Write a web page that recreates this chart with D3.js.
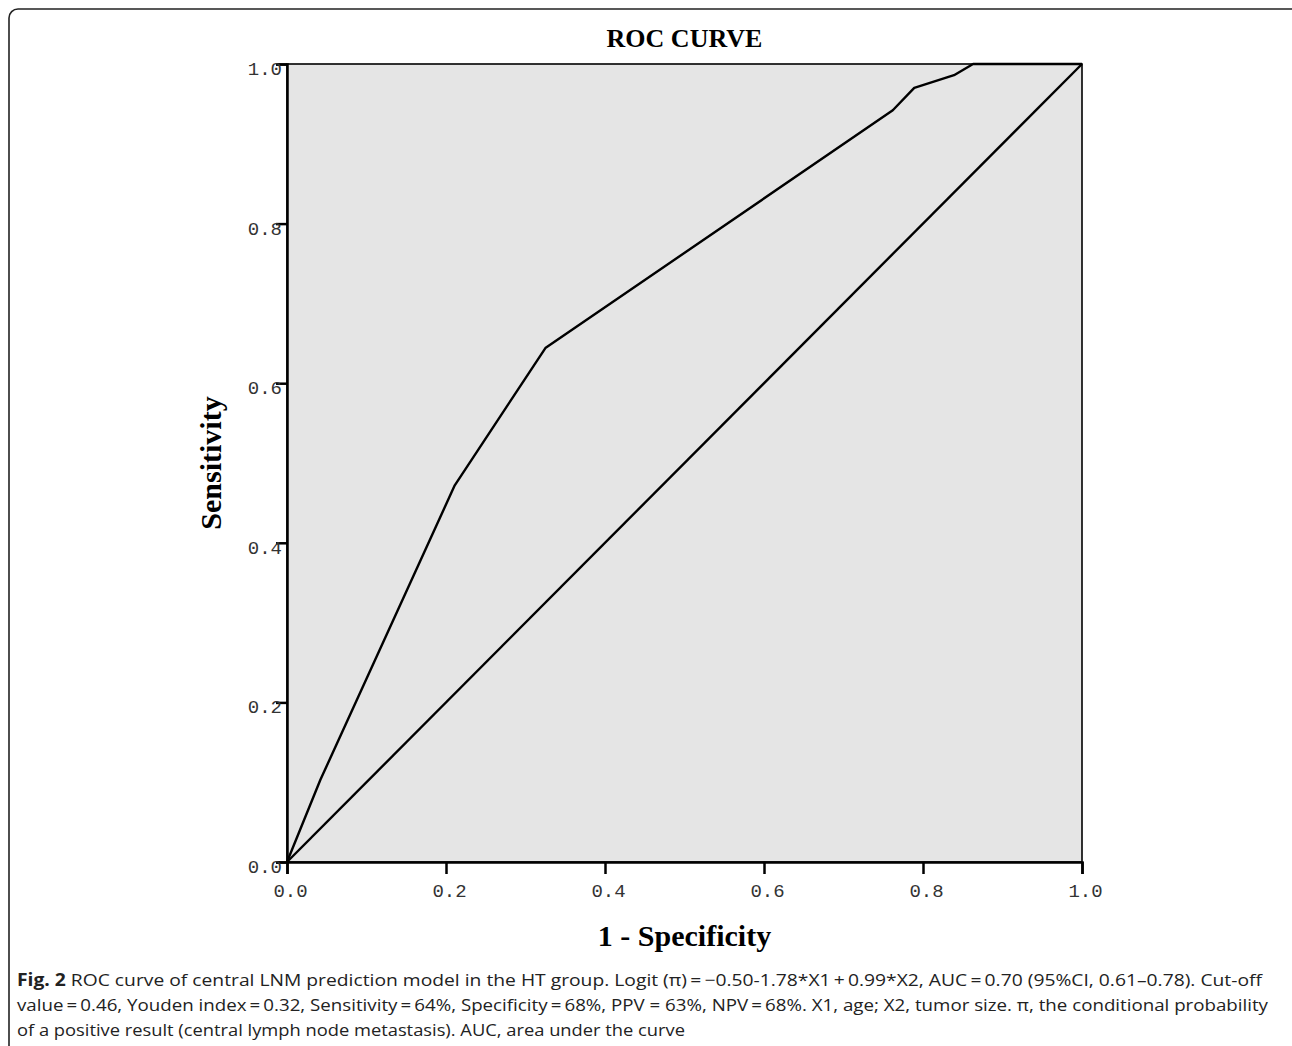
<!DOCTYPE html>
<html>
<head>
<meta charset="utf-8">
<script src="https://cdn.jsdelivr.net/npm/d3@7"></script>
<style>
body{margin:0;background:#fff;}
</style>
</head>
<body>
<div id="chart"></div>
<script>
// ROC curve points (1 - specificity, sensitivity)
let roc_fpr = [0, 0.042, 0.211, 0.325, 0.762, 0.789, 0.839, 0.863, 1.0],
roc_tpr = [0, 0.103, 0.472, 0.644, 0.942, 0.970, 0.986, 1.0, 1.0],
ref_line = [0, 1],
tick_values = [0, 0.2, 0.4, 0.6, 0.8, 1.0];

let caption_lines = [
	['Fig. 2', ' ROC curve of central LNM prediction model in the HT group. Logit (\u03c0)\u2009=\u2009\u22120.50-1.78*X1\u2009+\u20090.99*X2, AUC\u2009=\u20090.70 (95%CI, 0.61\u20130.78). Cut-off'],
	['', 'value\u2009=\u20090.46, Youden index\u2009=\u20090.32, Sensitivity\u2009=\u200964%, Specificity\u2009=\u200968%, PPV = 63%, NPV\u2009=\u200968%. X1, age; X2, tumor size. \u03c0, the conditional probability'],
	['', 'of a positive result (central lymph node metastasis). AUC, area under the curve']
],
caption_width = [1245, 1251, 668];

let W = 1292, H = 1046,
plot_left = 287, plot_right = 1082, plot_top = 64, plot_bottom = 862;

let svg = d3.select('#chart').append('svg').attr('width', W).attr('height', H);

// outer frame, rounded corner, runs off right and bottom
svg.append('rect')
.attr('x', 9).attr('y', 9)
.attr('width', W + 20).attr('height', H + 20)
.attr('rx', 9).attr('ry', 9)
.style('fill', 'none')
.style('stroke', '#222')
.style('stroke-width', 1.6);

let x = d3.scaleLinear().domain([0, 1]).range([plot_left, plot_right]),
y = d3.scaleLinear().domain([0, 1]).range([plot_bottom, plot_top]);

// plot background
svg.append('rect')
.attr('x', x(0)).attr('y', y(1))
.attr('width', x(1) - x(0)).attr('height', y(0) - y(1))
.style('fill', '#e5e5e5')
.style('stroke', '#000')
.style('stroke-width', 1.6);

// axes
let xAxis = svg.append('g').attr('transform', 'translate(0,' + plot_bottom + ')')
.call(d3.axisBottom(x).tickValues(tick_values).tickFormat(d3.format('.1f')).tickSize(12).tickPadding(10));
let yAxis = svg.append('g').attr('transform', 'translate(' + plot_left + ',0)')
.call(d3.axisLeft(y).tickValues(tick_values).tickFormat(d3.format('.1f')).tickSize(11).tickPadding(-6));

[xAxis, yAxis].forEach(a=>{
	a.select('.domain').style('stroke', '#000').style('stroke-width', 2.5);
	a.selectAll('.tick line').style('stroke', '#000').style('stroke-width', 2.5);
	a.selectAll('.tick text')
	.style('font-family', '"Liberation Mono", "DejaVu Sans Mono", monospace')
	.style('font-size', '19px')
	.style('fill', '#333');
});
xAxis.selectAll('.tick text').attr('dx', 3);
yAxis.selectAll('.tick text').attr('dy', '0.55em').attr('dx', 0);

// reference diagonal
let line = d3.line().x(d=>x(d[0])).y(d=>y(d[1]));
svg.append('path')
.datum(ref_line.map(d=>[d, d]))
.attr('d', line)
.style('fill', 'none')
.style('stroke', '#000')
.style('stroke-width', 2.4);

// roc curve
svg.append('path')
.datum(roc_fpr.map((d, i)=>[d, roc_tpr[i]]))
.attr('d', line)
.style('fill', 'none')
.style('stroke', '#000')
.style('stroke-width', 2.4)
.style('stroke-linejoin', 'round');

// titles
let serif = '"Liberation Serif", "Times New Roman", serif';
svg.append('text')
.text('ROC CURVE')
.attr('x', (plot_left + plot_right) / 2).attr('y', 47)
.attr('text-anchor', 'middle')
.style('font-family', serif).style('font-weight', 'bold').style('font-size', '26px');

svg.append('text')
.text('1 - Specificity')
.attr('x', (plot_left + plot_right) / 2).attr('y', 946)
.attr('text-anchor', 'middle')
.style('font-family', serif).style('font-weight', 'bold').style('font-size', '30px');

svg.append('text')
.text('Sensitivity')
.attr('transform', 'translate(221,' + (plot_top + plot_bottom) / 2 + ') rotate(-90)')
.attr('text-anchor', 'middle')
.style('font-family', serif).style('font-weight', 'bold').style('font-size', '30px');

// caption
caption_lines.forEach((d, i)=>{
	let t = svg.append('text')
	.attr('x', 17).attr('y', 986 + i * 25)
	.attr('textLength', caption_width[i])
	.attr('lengthAdjust', 'spacingAndGlyphs')
	.style('font-family', '"Open Sans", "Noto Sans", sans-serif')
	.style('font-size', '17px')
	.style('fill', '#222');
	if(d[0]) t.append('tspan').style('font-weight', 'bold').text(d[0]);
	t.append('tspan').text(d[1]);
});
</script>
</body>
</html>
